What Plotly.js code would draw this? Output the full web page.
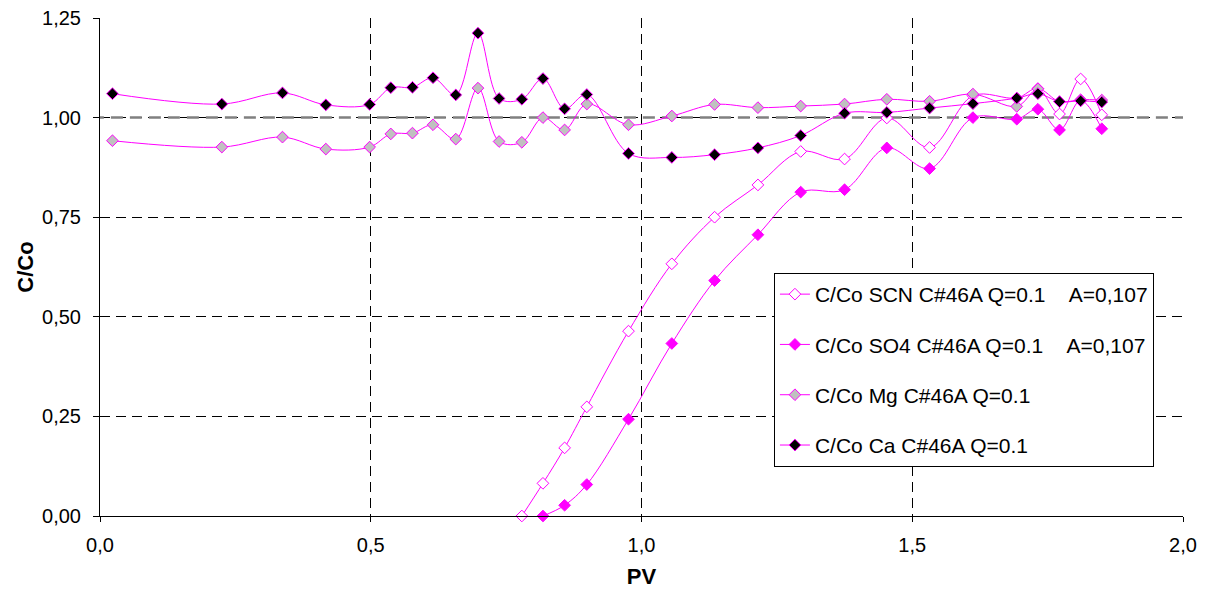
<!DOCTYPE html>
<html>
<head>
<meta charset="utf-8">
<script src="https://cdn.plot.ly/plotly-3.0.1.min.js"></script>
<style>html,body{margin:0;padding:0;background:#fff;}#chart{width:1210px;height:595px;}</style>
</head>
<body>
<div id="chart"></div>
<script>
// PV values
const pvFull = [0.023,0.225,0.337,0.417,0.498,0.537,0.577,0.615,0.657,0.698,0.737,0.779,0.818,0.858,0.899,0.976,1.056,1.135,1.215,1.294,1.375,1.453,1.532,1.612,1.693,1.732,1.772,1.811,1.850];
const pvSCN = [0.779,0.818,0.858,0.899,0.976,1.056,1.135,1.215,1.294,1.375,1.453,1.532,1.612,1.693,1.732,1.772,1.811,1.850];
const pvSO4 = [0.818,0.858,0.899,0.976,1.056,1.135,1.215,1.294,1.375,1.453,1.532,1.612,1.693,1.732,1.772,1.811,1.850];

// C/Co values
const scnValues = [0.000,0.082,0.171,0.274,0.464,0.633,0.750,0.831,0.915,0.896,0.999,0.925,1.055,1.049,1.073,1.009,1.097,1.007];
const so4Values = [0.000,0.027,0.079,0.243,0.433,0.591,0.706,0.813,0.819,0.924,0.872,1.000,0.996,1.021,0.969,1.043,0.972];
const mgValues = [0.942,0.926,0.951,0.921,0.926,0.959,0.961,0.982,0.946,1.074,0.940,0.938,1.000,0.969,1.034,0.982,1.004,1.033,1.025,1.029,1.034,1.046,1.041,1.059,1.028,1.072,1.040,1.045,1.044];
const caValues = [1.060,1.034,1.062,1.032,1.033,1.075,1.076,1.100,1.057,1.212,1.048,1.046,1.098,1.022,1.058,0.910,0.900,0.907,0.924,0.955,1.011,1.013,1.024,1.035,1.049,1.060,1.040,1.042,1.039];

// reference line at C/Co = 1
const refX = [-0.015, 2];
const refY = [1, 1];

const seriesNames = [
  "C/Co SCN C#46A Q=0.1\u00A0\u00A0\u00A0\u00A0A=0,107",
  "C/Co SO4 C#46A Q=0.1\u00A0\u00A0\u00A0\u00A0A=0,107",
  "C/Co Mg C#46A Q=0.1",
  "C/Co Ca C#46A Q=0.1"
];

const MAG = "#FF00FF";
function series(x, y, name, fill, grp) {
  return {
    x: x, y: y, name: name, type: "scatter", mode: "lines+markers",
    legendgroup: grp,
    line: {color: MAG, width: 1, shape: "spline", smoothing: 1},
    marker: {symbol: "diamond", size: 9, color: fill, line: {color: MAG, width: 1}},
    cliponaxis: false
  };
}

const traces = [
  {x: refX, y: refY, type: "scatter", mode: "lines", showlegend: false, hoverinfo: "skip",
   line: {color: "#808080", width: 2.5, dash: "12px,7px"}, cliponaxis: false},
  series(pvSCN, scnValues, seriesNames[0], "#FFFFFF", "a"),
  series(pvSO4, so4Values, seriesNames[1], MAG, "b"),
  series(pvFull, mgValues, seriesNames[2], "#C0C0C0", "c"),
  series(pvFull, caValues, seriesNames[3], "#000000", "d")
];

const FONT = "'Liberation Sans', Arial, sans-serif";
const layout = {
  width: 1210, height: 595,
  margin: {l: 100, r: 27, t: 18, b: 79},
  paper_bgcolor: "#fff", plot_bgcolor: "#fff",
  separators: ", ",
  font: {family: FONT, size: 20, color: "#000"},
  showlegend: true,
  legend: {
    x: 0.6223, y: 0.488, xanchor: "left", yanchor: "top",
    bgcolor: "#fff", bordercolor: "#000", borderwidth: 1,
    font: {family: FONT, size: 21, color: "#000"},
    traceorder: "grouped", tracegroupgap: 20, itemwidth: 30
  },
  xaxis: {
    range: [0, 2], dtick: 0.5, tick0: 0, tickformat: ".1f",
    showline: true, linecolor: "#000", linewidth: 1,
    ticks: "outside", ticklen: 5, tickcolor: "#000",
    ticklabelstandoff: 6,
    showgrid: true, gridcolor: "#000", griddash: "10px,6px", gridwidth: 1,
    zeroline: false,
    tickfont: {family: FONT, size: 20},
    title: {text: "<b>PV</b>", font: {family: FONT, size: 22}, standoff: 13}
  },
  yaxis: {
    range: [0, 1.25], dtick: 0.25, tick0: 0, tickformat: ".2f",
    showline: true, linecolor: "#000", linewidth: 1,
    ticks: "outside", ticklen: 6, tickcolor: "#000",
    ticklabelstandoff: 8,
    showgrid: true, gridcolor: "#000", griddash: "10px,6px", gridwidth: 1,
    zeroline: false,
    tickfont: {family: FONT, size: 20},
    title: {text: "<b>C/Co</b>", font: {family: FONT, size: 22}, standoff: 2}
  }
};

Plotly.newPlot("chart", traces, layout, {displayModeBar: false, staticPlot: true});
</script>
</body>
</html>
